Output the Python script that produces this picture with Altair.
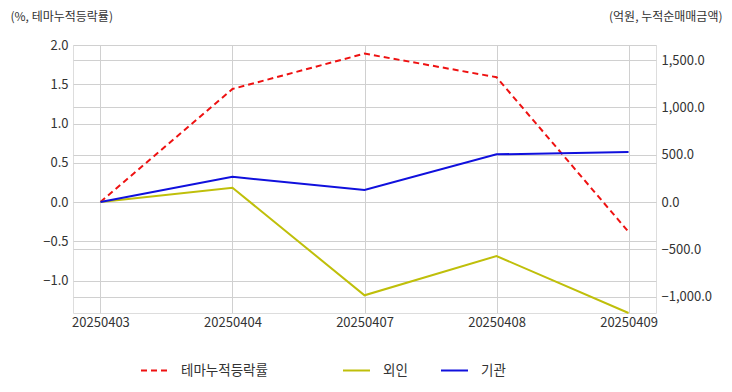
import altair as alt
import pandas as pd

dates = ["20250403", "20250404", "20250407", "20250408", "20250409"]
theme = [0.0, 1.44, 1.89, 1.59, -0.38]
foreign = [0.0, 151.0, -986.0, -571.0, -1173.0]
inst = [0.0, 267.0, 127.0, 504.0, 528.0]

series_names = ["테마누적등락률", "외인", "기관"]
series_colors = ["#ee1111", "#bfbf0a", "#1010dd"]
theme_dash = [6, 4]

rows = []
for name, vals in zip(series_names, [theme, foreign, inst]):
    for d, v in zip(dates, vals):
        rows.append({"date": d, "series": name, "value": v})
df = pd.DataFrame(rows)

FONT = "Noto Sans CJK KR"

x = alt.X("date:O", sort=dates, title=None,
          scale=alt.Scale(type="point", padding=0.208),
          axis=alt.Axis(labelAngle=0, grid=True, gridColor="#d0d0d0", ticks=False,
                        domain=False, labelPadding=3, labelFontSize=13,
                        labelColor="#333333", labelFont=FONT))

def make_legend(lx):
    return alt.Legend(title=None, orient="none", direction="horizontal",
                      legendX=lx, legendY=311, symbolType="stroke",
                      symbolSize=729, symbolStrokeWidth=2,
                      labelFontSize=13.5, labelFont=FONT, labelColor="#333333",
                      labelOffset=12, columnPadding=29)

base = alt.Chart(df)

left = base.transform_filter(alt.datum.series == series_names[0]).mark_line(strokeWidth=2).encode(
    x=x,
    y=alt.Y("value:Q",
            scale=alt.Scale(domain=[-1.414, 2.0], nice=False, zero=False),
            axis=alt.Axis(orient="left", values=[-1.0, -0.5, 0.0, 0.5, 1.0, 1.5, 2.0], format=".1f",
                          grid=True, gridColor="#d0d0d0", ticks=False, domain=False,
                          labelPadding=5, labelFontSize=13, labelColor="#333333", labelFont=FONT,
                          title="(%, 테마누적등락률)", titleAngle=0, titleAlign="left",
                          titleBaseline="middle", titleX=-63, titleY=-29,
                          titleFontSize=12, titleFontWeight="normal", titleColor="#333333",
                          titleFont=FONT)),
    color=alt.Color("series:N", scale=alt.Scale(domain=series_names[:1], range=series_colors[:1]),
                    legend=make_legend(67)),
    strokeDash=alt.StrokeDash("series:N", scale=alt.Scale(domain=series_names[:1], range=[theme_dash]),
                              legend=make_legend(67)),
)

right = base.transform_filter(alt.datum.series != series_names[0]).mark_line(strokeWidth=2).encode(
    x=x,
    y=alt.Y("value:Q",
            scale=alt.Scale(domain=[-1173, 1660], nice=False, zero=False),
            axis=alt.Axis(orient="right", values=[-1000, -500, 0, 500, 1000, 1500], format=",.1f",
                          grid=True, gridColor="#d0d0d0", ticks=False, domain=False,
                          labelPadding=5, labelFontSize=13, labelColor="#333333", labelFont=FONT,
                          title="(억원, 누적순매매금액)", titleAngle=0, titleAlign="right",
                          titleBaseline="middle", titleX=66, titleY=-29,
                          titleFontSize=12, titleFontWeight="normal", titleColor="#333333",
                          titleFont=FONT)),
    color=alt.Color("series:N", scale=alt.Scale(domain=series_names[1:], range=series_colors[1:]),
                    legend=make_legend(269)),
)

chart = alt.layer(left, right).resolve_scale(
    y="independent", color="independent", strokeDash="independent"
).properties(
    width=583, height=268,
    autosize=alt.AutoSizeParams(type="none"),
    padding={"left": 65, "top": 37, "right": 68, "bottom": 71},
).configure_view(stroke="#cccccc", strokeWidth=2).configure(background="white")

chart.save("out.html", embed_options={"renderer": "svg", "actions": False})
